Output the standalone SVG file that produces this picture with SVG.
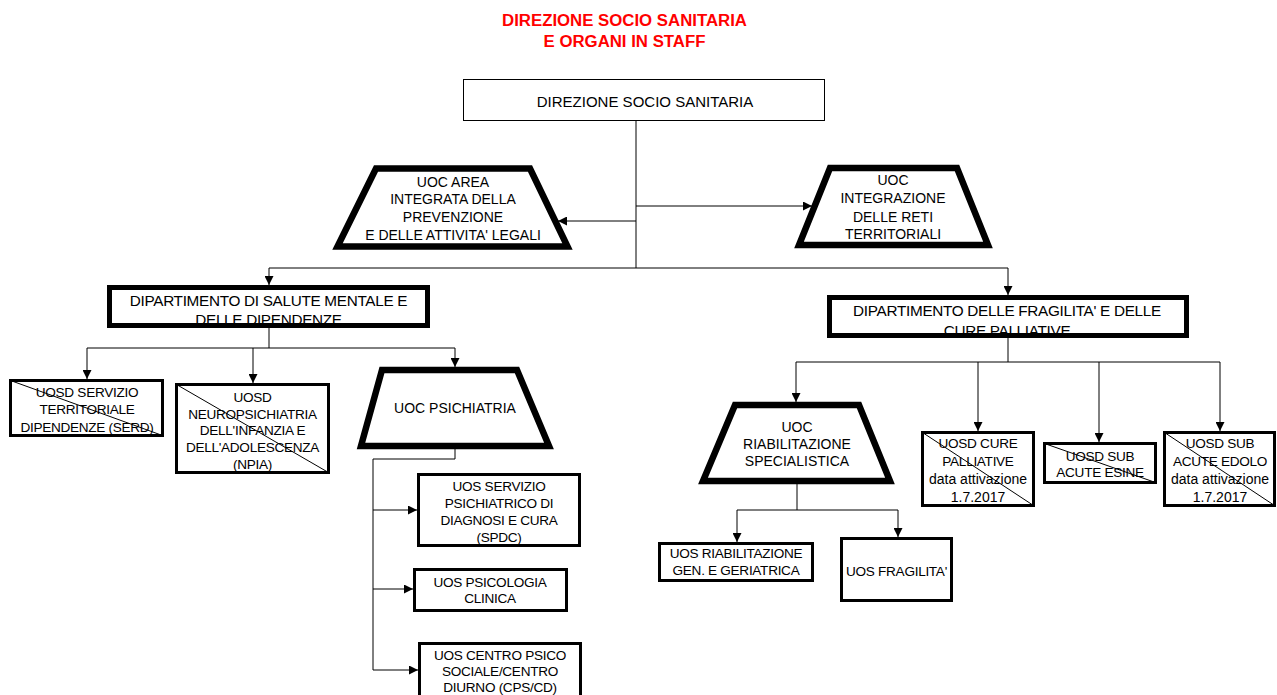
<svg xmlns="http://www.w3.org/2000/svg" width="1277" height="695" viewBox="0 0 1277 695">
<defs>
<marker id="arr" viewBox="0 0 10 10" markerWidth="9" markerHeight="9" refX="10" refY="5" orient="auto" markerUnits="userSpaceOnUse">
<path d="M0,0 L10,5 L0,10 z" fill="#000"/>
</marker>
<style>
text{font-family:"Liberation Sans",Arial,sans-serif;font-size:14px;fill:#000;text-anchor:middle}
.title{font-size:16.8px;font-weight:bold;fill:#ff0000}
.big{font-size:15.3px;letter-spacing:-0.3px}
.top{font-size:15px}
.sm{font-size:13.6px;letter-spacing:-0.3px}
.lc{font-size:14px}
.thin{fill:#fff;stroke:#000;stroke-width:1}
.thick{fill:#fff;stroke:#000;stroke-width:5;stroke-linejoin:miter}
.trap{fill:#fff;stroke:#000;stroke-width:6.5;stroke-linejoin:miter}
.box{fill:#fff;stroke:#000;stroke-width:3}
.diag{stroke:#000;stroke-width:1;fill:none}
.c{fill:none;stroke:#000;stroke-width:1}
.a{fill:none;stroke:#000;stroke-width:1;marker-end:url(#arr)}
</style>
</defs>
<rect width="1277" height="695" fill="#fff"/>
<g id="title">
<text class="title" x="624.5" y="26">DIREZIONE SOCIO SANITARIA</text>
<text class="title" x="624.5" y="47">E ORGANI IN STAFF</text>
</g>
<g id="connectors">
<path class="c" d="M636,120 V268"/>
<path class="a" d="M636,221 H558"/>
<path class="a" d="M636,206 H812"/>
<path class="c" d="M269,268 H1008"/>
<path class="a" d="M269,268 V285"/>
<path class="a" d="M1008,268 V295"/>
<path class="c" d="M269,328 V348 M87,348 H455"/>
<path class="a" d="M87,348 V379"/>
<path class="a" d="M253,348 V383"/>
<path class="a" d="M455,348 V367"/>
<path class="c" d="M455,449 V459 H373 V670"/>
<path class="a" d="M373,510 H417"/>
<path class="a" d="M373,589 H413"/>
<path class="a" d="M373,670 H418"/>
<path class="c" d="M1008,338 V362 M796,362 H1220"/>
<path class="a" d="M796,362 V402"/>
<path class="a" d="M978,362 V431"/>
<path class="a" d="M1099,362 V442"/>
<path class="a" d="M1220,362 V431"/>
<path class="c" d="M797,484 V510 M737,510 H898"/>
<path class="a" d="M737,510 V542"/>
<path class="a" d="M898,510 V537"/>
</g>
<g id="dss">
<rect class="thin" x="463.5" y="79.5" width="361" height="41"/>
<text class="top" x="645" y="107">DIREZIONE SOCIO SANITARIA</text>
</g>
<g id="uoc-area-prevenzione">
<polygon class="trap" points="376,168.5 530,168.5 567.5,246.5 337.5,246.5"/>
<text x="453" y="187">UOC AREA</text>
<text x="453" y="204">INTEGRATA DELLA</text>
<text x="453" y="222">PREVENZIONE</text>
<text x="453" y="240">E DELLE ATTIVITA' LEGALI</text>
</g>
<g id="uoc-integrazione-reti">
<polygon class="trap" points="830,168 957,168 988,245 799,245"/>
<text x="893" y="185">UOC</text>
<text x="893" y="203">INTEGRAZIONE</text>
<text x="893" y="222">DELLE RETI</text>
<text x="893" y="239">TERRITORIALI</text>
</g>
<g id="dsm">
<rect class="thick" x="109.5" y="287.5" width="318" height="38"/>
<text class="big" x="268.5" y="306">DIPARTIMENTO DI SALUTE MENTALE E</text>
<text class="big" x="268.5" y="325">DELLE DIPENDENZE</text>
</g>
<g id="dfcp">
<rect class="thick" x="829.5" y="297.5" width="357" height="38"/>
<text class="big" x="1007" y="316">DIPARTIMENTO DELLE FRAGILITA' E DELLE</text>
<text class="big" x="1007" y="336">CURE PALLIATIVE</text>
</g>
<g id="serd">
<rect class="box" x="10.5" y="380.5" width="152" height="55"/>
<line class="diag" x1="10.5" y1="380.5" x2="162.5" y2="435.5"/>
<text class="sm" x="87" y="397">UOSD SERVIZIO</text>
<text class="sm" x="87" y="414">TERRITORIALE</text>
<text class="sm" x="87" y="432">DIPENDENZE (SERD)</text>
</g>
<g id="npia">
<rect class="box" x="176.5" y="384.5" width="152" height="88"/>
<line class="diag" x1="176.5" y1="384.5" x2="328.5" y2="472.5"/>
<text class="sm" x="252.5" y="402">UOSD</text>
<text class="sm" x="252.5" y="418.5">NEUROPSICHIATRIA</text>
<text class="sm" x="252.5" y="435">DELL'INFANZIA E</text>
<text class="sm" x="252.5" y="452">DELL'ADOLESCENZA</text>
<text class="sm" x="252.5" y="469">(NPIA)</text>
</g>
<g id="uoc-psichiatria">
<polygon class="trap" points="382,370 517,370 549,446 361,446"/>
<text x="455" y="413">UOC PSICHIATRIA</text>
</g>
<g id="spdc">
<rect class="box" x="418.5" y="474.5" width="161" height="71"/>
<text class="sm" x="499" y="491">UOS  SERVIZIO</text>
<text class="sm" x="499" y="507.5">PSICHIATRICO DI</text>
<text class="sm" x="499" y="524.5">DIAGNOSI E CURA</text>
<text class="sm" x="499" y="542">(SPDC)</text>
</g>
<g id="psicologia">
<rect class="box" x="414.5" y="569.5" width="152" height="41"/>
<text class="sm" x="490" y="587">UOS PSICOLOGIA</text>
<text class="sm" x="490" y="603">CLINICA</text>
</g>
<g id="cps">
<rect class="box" x="419.5" y="643.5" width="161" height="60"/>
<text class="sm" x="500" y="660">UOS CENTRO PSICO</text>
<text class="sm" x="500" y="676">SOCIALE/CENTRO</text>
<text class="sm" x="500" y="692">DIURNO (CPS/CD)</text>
</g>
<g id="uoc-riabilitazione">
<polygon class="trap" points="735,405 859,405 890,481 703,481"/>
<text x="797" y="432">UOC</text>
<text x="797" y="449">RIABILITAZIONE</text>
<text x="797" y="466">SPECIALISTICA</text>
</g>
<g id="uos-riab-gen">
<rect class="box" x="659.5" y="543.5" width="153" height="37"/>
<text class="sm" x="736" y="558">UOS RIABILITAZIONE</text>
<text class="sm" x="736" y="575">GEN. E GERIATRICA</text>
</g>
<g id="uos-fragilita">
<rect class="box" x="841.5" y="538.5" width="110" height="62"/>
<text class="sm" x="896.5" y="576">UOS FRAGILITA'</text>
</g>
<g id="cure-palliative">
<rect class="box" x="922.5" y="432.5" width="111" height="73"/>
<line class="diag" x1="922.5" y1="432.5" x2="1033.5" y2="505.5"/>
<text class="sm" x="978" y="448">UOSD CURE</text>
<text class="sm" x="978" y="466">PALLIATIVE</text>
<text class="lc" x="978" y="484">data attivazione</text>
<text class="lc" x="978" y="502">1.7.2017</text>
</g>
<g id="sub-acute-esine">
<rect class="box" x="1044.5" y="443.5" width="111" height="39"/>
<line class="diag" x1="1044.5" y1="443.5" x2="1155.5" y2="482.5"/>
<text class="sm" x="1100" y="461">UOSD SUB</text>
<text class="sm" x="1100" y="477">ACUTE ESINE</text>
</g>
<g id="sub-acute-edolo">
<rect class="box" x="1164.5" y="432.5" width="110" height="73"/>
<line class="diag" x1="1164.5" y1="432.5" x2="1274.5" y2="505.5"/>
<text class="sm" x="1220" y="448">UOSD SUB</text>
<text class="sm" x="1220" y="466">ACUTE EDOLO</text>
<text class="lc" x="1220" y="484">data attivazione</text>
<text class="lc" x="1220" y="502">1.7.2017</text>
</g>
</svg>
